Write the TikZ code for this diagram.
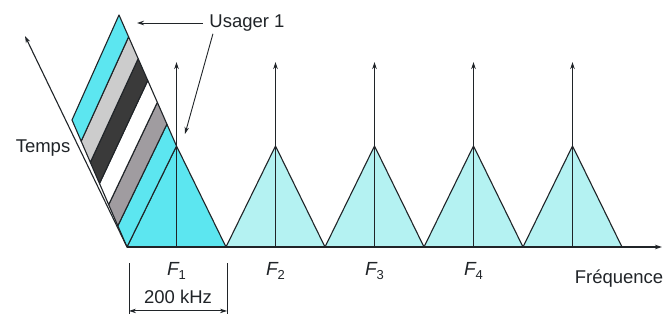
\documentclass[tikz,border=0pt]{standalone}
\usepackage{fontspec}
\setmainfont{Liberation Sans}
\usetikzlibrary{calc,arrows.meta}
\definecolor{cyanA}{HTML}{5CE6F0}
\definecolor{cyanB}{HTML}{B4F2F2}
\definecolor{lgray}{HTML}{CCCCCC}
\definecolor{mgray}{HTML}{A09CA0}
\definecolor{dgray}{HTML}{3A3A3A}
\definecolor{ink}{HTML}{202428}
\begin{document}
\begin{tikzpicture}[x=1pt,y=-1pt,line width=1.1pt,draw=ink,
  tip/.style={-{Stealth[length=7pt,width=4.5pt]}},
  dimtip/.style={{Stealth[length=7pt,width=4.5pt]}-{Stealth[length=7pt,width=4.5pt]}},
  lbl/.style={font=\fontsize{18.5}{20}\selectfont,text=ink,inner sep=0pt},
  flbl/.style={font=\fontsize{19}{21}\selectfont\itshape,text=ink,inner sep=0pt},
  band/.style={draw=ink,line join=round},
  tri/.style={draw=ink,line join=round,fill=cyanB}]
\useasboundingbox (0,0) rectangle (668,320);
% key points
\coordinate (O) at (127,247);
\coordinate (P) at (176.5,146);
\coordinate (Q) at (72,120);
\coordinate (R) at (119,15);
% triangles
\foreach \k in {0,...,4} {
  \coordinate (b\k) at ({127+99*\k},247);
  \coordinate (p\k) at ({176.5+99*\k},146);
  \coordinate (t\k) at ({176.5+99*\k},62);
}
\coordinate (b5) at (622,247);
\foreach \k [evaluate=\k as \n using int(\k+1)] in {1,...,4} {
  \draw[tri] (b\k) -- (p\k) -- (b\n) -- cycle;
}
\draw[tri,fill=cyanA] (b0) -- (p0) -- (b1) -- cycle;
% time slots
\foreach \i/\c in {1/cyanA,2/mgray,3/white,4/dgray,5/lgray,6/cyanA} {
  \pgfmathsetmacro\a{(\i-1)/6}
  \pgfmathsetmacro\b{\i/6}
  \filldraw[band,fill=\c] ($(O)!\a!(Q)$) -- ($(P)!\a!(R)$) -- ($(P)!\b!(R)$) -- ($(O)!\b!(Q)$) -- cycle;
}
% carrier arrows
\foreach \k in {0,...,4} {
  \draw[tip] ({176.5+99*\k},247) -- (t\k);
}
% axes
\coordinate (tA) at (25,36);
\coordinate (fA) at (662,247);
\draw[tip] (O) -- (tA);
\draw[tip] (O) -- (fA);
% labels
\node[lbl] (temps) at (43,148) {Temps};
\node[lbl] (freq) at (619,279) {Fréquence};
\node[lbl] (usager) at (247,23) {Usager 1};
\coordinate (u1) at (137,23);
\coordinate (u2) at (185,134);
\draw[tip,line width=0.9pt] ([xshift=-6pt]usager.west) -- (u1);
\draw[tip,line width=0.9pt] ([xshift=4pt,yshift=-2pt]usager.south west) -- (u2);
\foreach \k/\s in {0/1,1/2,2/3,3/4} {
  \node[flbl] (F\s) at ({176.5+99*\k},271) {F\raisebox{-0.4ex}{\fontsize{13}{14}\selectfont\upshape\s}};
}
\node[lbl] (khz) at (178,297) {200 kHz};
% dimension
\coordinate (d1t) at (129,263);
\coordinate (d1b) at (129,314);
\coordinate (d2t) at (227,263);
\coordinate (d2b) at (227,314);
\draw[line width=0.9pt] (d1t) -- (d1b);
\draw[line width=0.9pt] (d2t) -- (d2b);
\draw[dimtip,line width=0.9pt] ($(d1t)!0.94!(d1b)$) -- ($(d2t)!0.94!(d2b)$);
\end{tikzpicture}
\end{document}
